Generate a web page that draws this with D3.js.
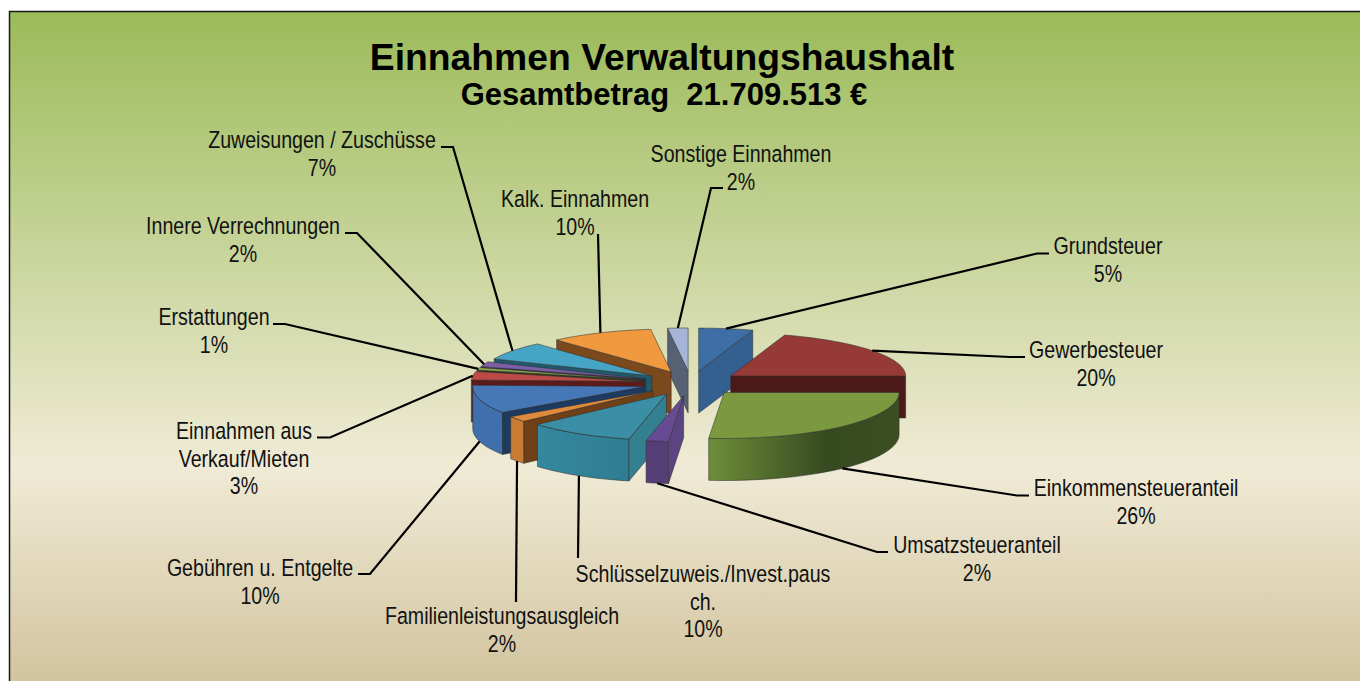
<!DOCTYPE html>
<html><head><meta charset="utf-8">
<script src="https://cdn.jsdelivr.net/npm/d3@7/dist/d3.min.js"></script>
<style>html,body{margin:0;padding:0;background:#fff;overflow:hidden}svg{display:block}
text{font-family:"Liberation Sans",Arial,sans-serif;fill:#111;white-space:pre}</style></head>
<body><svg id="c" width="1360" height="681"></svg>
<script>
// ---- data ----
const categories = ["Grundsteuer","Gewerbesteuer","Einkommensteueranteil","Umsatzsteueranteil","Schlüsselzuweis./Invest.pauschal","Familienleistungsausgleich","Gebühren u. Entgelte","Einnahmen aus Verkauf/Mieten","Erstattungen","Innere Verrechnungen","Zuweisungen / Zuschüsse","Kalk. Einnahmen","Sonstige Einnahmen"];
const shares = [5,20,26.4,2.1,10,2,10,3.2,0.9,1.9,6.9,9.7,1.9];
const labelLines = [["Grundsteuer"],["Gewerbesteuer"],["Einkommensteueranteil"],["Umsatzsteueranteil"],["Schlüsselzuweis./Invest.paus","ch."],["Familienleistungsausgleich"],["Gebühren u. Entgelte"],["Einnahmen aus","Verkauf/Mieten"],["Erstattungen"],["Innere Verrechnungen"],["Zuweisungen / Zuschüsse"],["Kalk. Einnahmen"],["Sonstige Einnahmen"]];
const titleText = "Einnahmen Verwaltungshaushalt";
const subtitleText = "Gesamtbetrag  21.709.513 €";

// ---- styles and layout (not data) ----
const topColors  = ["#3d6ea5","#953a36","#7b9a40","#664a92","#3a8ea5","#e08a3c","#4678b8","#bc4b48","#93b04c","#7d5fa8","#46a5c4","#f0993f","#a6b5d7"];
const wallColors = ["#33608f","#4b1a18","#4b6128","#5c4482","#348090","#6f4018","#1d3b60","#5c1a1a","#2f3a18","#3c2a5c","#205a6c","#7b491c","#566173"];
const arcStops   = [["#33608f","#33608f"],["#5a1f1c","#5a1f1c"],["#6e8e3a","#364a20","#3c4e22"],["#563e78","#563e78"],["#35889e","#2e7d92"],["#c97a35","#c97a35"],["#3f70ad","#3f70ad"],["#5c1a1a","#5c1a1a"],["#3c4a20","#3c4a20"],["#3c2a5c","#3c2a5c"],["#205a6c","#205a6c"],["#7b491c","#7b491c"],["#566173","#566173"]];
// label centre x, first baseline y, leader elbow [x0,x1,y] for each slice
const labelPos = [[1108,254],[1096,358],[1136,496],[977,553],[703,582],[502,624],[260,576],[244,439],[214,325],[243,234],[322,148],[575,207],[741,162]];
const elbows = [[1049,1037,253.5],[1025,1010,357],[1029,1017,495.5],[888,877,552],[578,578,558],[516,516,602],[358,370,574],[317,330,437.5],[273,285,324],[345,357,233],[441,453,147],[598,598,234],[723,711,188]];

const svg = d3.select("#c");
const defs = svg.append("defs");
const bg = defs.append("linearGradient").attr("id","bg").attr("x1",0).attr("x2",0).attr("y1",0).attr("y2",1);
[[0,"#9bbb59"],[0.66,"#f0ebd6"],[1,"#cfc09a"]].forEach(s=>bg.append("stop").attr("offset",s[0]).attr("stop-color",s[1]));
svg.append("rect").attr("x",9.5).attr("y",11.5).attr("width",1360).attr("height",690).attr("fill","url(#bg)").attr("stroke","#1a1a1a").attr("stroke-width",1.5);

svg.append("text").attr("x",662).attr("y",70).attr("text-anchor","middle").attr("font-weight","bold").attr("font-size",37.3).style("fill","#000").text(titleText);
svg.append("text").attr("x",664).attr("y",105).attr("text-anchor","middle").attr("font-weight","bold").attr("font-size",31).style("fill","#000").text(subtitleText);

// ---- pie projection ----
const x = d3.scaleLinear().domain([-1,0,1]).range([691-172,691,691+175]);
const y = d3.scaleLinear().domain([-1,0,1]).range([383-43,383,383+46]);
const depth = 42, explode = 0.28;
const pie = d3.pie().sort(null).value(d=>d).startAngle(0).endAngle(2*Math.PI);
const arcs = pie(shares).map((d,i)=>({...d,i,mid:(d.startAngle+d.endAngle)/2}));
const apexOf = d => [Math.sin(d.mid)*explode, -Math.cos(d.mid)*explode];
const P = (d,a,r=1,dz=0) => { const c=apexOf(d); return [x(c[0]+r*Math.sin(a)), y(c[1]-r*Math.cos(a))+dz]; };
const arcPts = (d,a0,a1,dz=0) => d3.range(0,25).map(k=>P(d,a0+(a1-a0)*k/24,1,dz));
const line = d3.line();

const pieG = svg.append("g").style("filter","blur(0.45px)");
const edge = "rgba(50,50,50,.55)";
function poly(pts,fill){ pieG.append("path").attr("d",line(pts)+"Z").attr("fill",fill).attr("stroke",edge).attr("stroke-width",1).attr("stroke-linejoin","round"); }

const order = arcs.slice().sort((a,b)=>Math.cos(b.mid)-Math.cos(a.mid));
order.forEach(d=>{
  const a=d.startAngle,b=d.endAngle,apex=P(d,0,0);
  const wall=ang=>{const o=P(d,ang);poly([apex,o,[o[0],o[1]+depth],[apex[0],apex[1]+depth]],wallColors[d.i]);};
  // outer wall on the front half only
  const f0=Math.max(a,Math.PI/2),f1=Math.min(b,Math.PI*1.5);
  if(f1>f0){
    const id="arc"+d.i, pts=arcPts(d,f0,f1), st=arcStops[d.i];
    const g=defs.append("linearGradient").attr("id",id);
    const offs=st.length>2?[0,0.62,1]:[0,1];
    st.forEach((c,k)=>g.append("stop").attr("offset",offs[k]).attr("stop-color",c));
    poly(pts.concat(pts.map(p=>[p[0],p[1]+depth]).reverse()),"url(#"+id+")");
  }
  if(Math.sin(a)<-1e-6) wall(a);
  if(Math.sin(b)>1e-6) wall(b);
  poly([apex].concat(arcPts(d,a,b)),topColors[d.i]);
});

// ---- leaders and labels ----
const leaders = svg.append("g");
arcs.forEach(d=>{
  const e=elbows[d.i];
  const end=P(d,d.mid,1,Math.cos(d.mid)<0?depth:0);
  const pts=[[e[0],e[2]],[e[1],e[2]],end];
  leaders.append("path").attr("d",line(pts)).attr("fill","none").attr("stroke","#000").attr("stroke-width",2.2);
});
const narrow=0.834, lh=27.5;
arcs.forEach(d=>{
  const [lx,ly]=labelPos[d.i];
  const lines=labelLines[d.i].concat([Math.round(shares[d.i])+"%"]);
  lines.forEach((t,k)=>{
    svg.append("text").attr("transform",`translate(${lx},${ly+k*lh}) scale(${narrow},1)`).attr("text-anchor","middle").attr("font-size",23.5).text(t);
  });
});
</script></body></html>
